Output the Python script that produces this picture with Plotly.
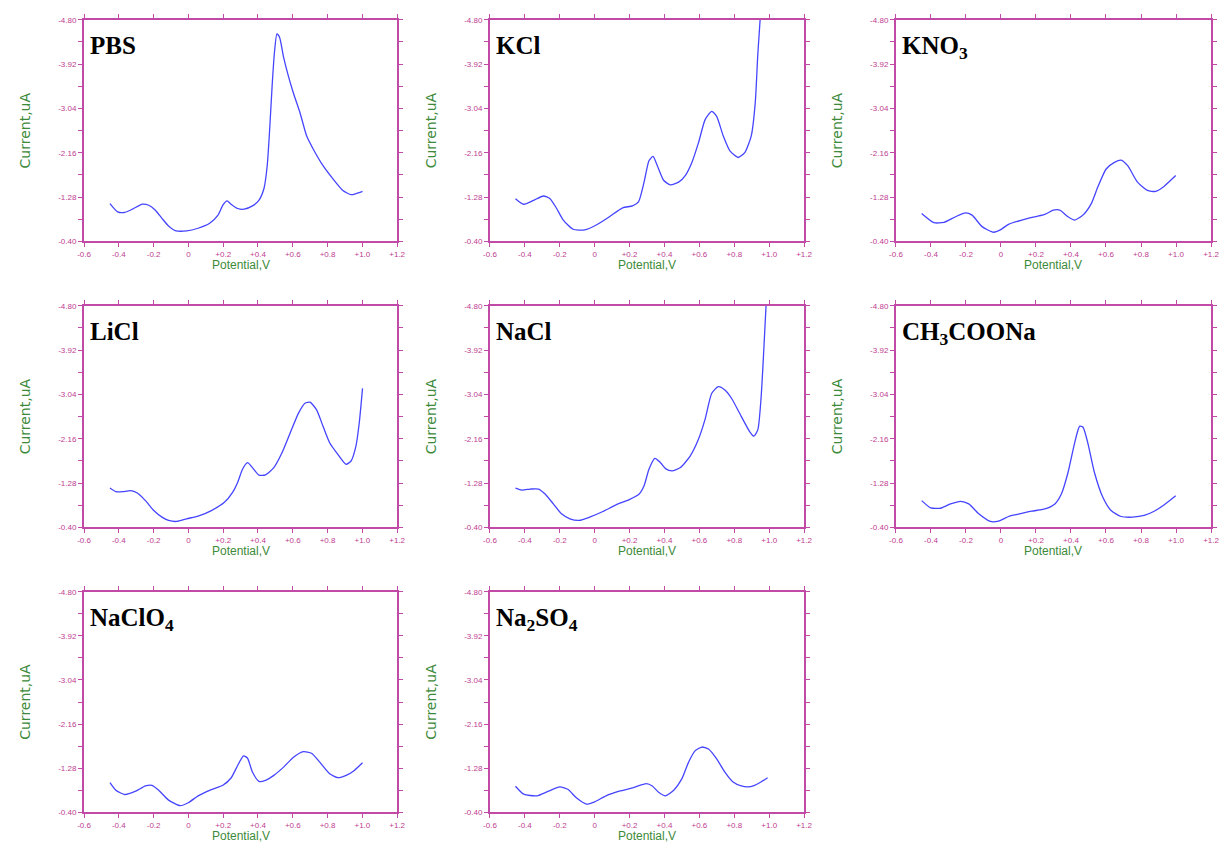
import plotly.graph_objects as go

# ---------------- data ----------------
labels = ["<b>PBS</b>", "<b>KCl</b>", "<b>KNO<sub>3</sub></b>",
          "<b>LiCl</b>", "<b>NaCl</b>", "<b>CH<sub>3</sub>COONa</b>",
          "<b>NaClO<sub>4</sub></b>", "<b>Na<sub>2</sub>SO<sub>4</sub></b>"]

pbs_x = [-0.451, -0.407, -0.369, -0.322, -0.265, -0.228, -0.19, -0.152, -0.114, -0.076, -0.01, 0.056, 0.122, 0.17,
         0.198, 0.222, 0.245, 0.283, 0.32, 0.368, 0.405, 0.434, 0.453, 0.466, 0.481, 0.494, 0.509, 0.524, 0.547,
         0.576, 0.604, 0.642, 0.68, 0.718, 0.774, 0.831, 0.888, 0.935, 0.963, 1.001]
pbs_y = [-1.152, -0.988, -0.975, -1.04, -1.139, -1.119, -1.021, -0.858, -0.707, -0.616, -0.609, -0.662, -0.76,
         -0.923, -1.119, -1.204, -1.139, -1.054, -1.04, -1.106, -1.217, -1.446, -1.904, -2.558, -3.473, -4.127,
         -4.519, -4.454, -4.061, -3.669, -3.342, -2.95, -2.492, -2.231, -1.904, -1.642, -1.413, -1.328, -1.348, -1.394]

kcl_x = [-0.454, -0.407, -0.35, -0.294, -0.256, -0.218, -0.18, -0.124, -0.057, 0.009, 0.084, 0.16, 0.217, 0.251,
         0.283, 0.311, 0.334, 0.359, 0.396, 0.434, 0.481, 0.519, 0.557, 0.595, 0.633, 0.671, 0.699, 0.737, 0.775,
         0.822, 0.86, 0.897, 0.92, 0.935, 0.948]
kcl_y = [-1.25, -1.139, -1.217, -1.302, -1.25, -1.054, -0.825, -0.642, -0.629, -0.727, -0.89, -1.067, -1.106,
         -1.185, -1.577, -2.002, -2.087, -1.904, -1.61, -1.525, -1.577, -1.708, -1.969, -2.361, -2.819, -2.983,
         -2.884, -2.492, -2.198, -2.067, -2.165, -2.492, -3.146, -4.127, -4.80]

kno3_x = [-0.453, -0.383, -0.326, -0.26, -0.203, -0.165, -0.108, -0.042, -0.004, 0.043, 0.119, 0.194, 0.251, 0.298,
          0.336, 0.383, 0.421, 0.468, 0.516, 0.553, 0.601, 0.648, 0.686, 0.724, 0.78, 0.837, 0.884, 0.931, 0.998]
kno3_y = [-0.956, -0.773, -0.779, -0.89, -0.969, -0.923, -0.694, -0.583, -0.629, -0.74, -0.825, -0.89, -0.936,
          -1.021, -1.021, -0.89, -0.825, -0.923, -1.152, -1.479, -1.838, -1.969, -2.015, -1.904, -1.577, -1.413,
          -1.394, -1.492, -1.708]

licl_x = [-0.451, -0.417, -0.379, -0.332, -0.294, -0.247, -0.199, -0.152, -0.114, -0.067, -0.01, 0.056, 0.132, 0.207,
          0.254, 0.283, 0.311, 0.34, 0.368, 0.406, 0.443, 0.491, 0.538, 0.585, 0.633, 0.67, 0.699, 0.737, 0.774,
          0.812, 0.859, 0.906, 0.935, 0.963, 0.982, 1.001]
licl_y = [-1.18, -1.108, -1.108, -1.128, -1.082, -0.931, -0.734, -0.603, -0.538, -0.518, -0.57, -0.623, -0.734,
          -0.898, -1.095, -1.292, -1.554, -1.685, -1.587, -1.436, -1.443, -1.587, -1.882, -2.275, -2.669, -2.865,
          -2.885, -2.734, -2.406, -2.079, -1.849, -1.652, -1.718, -2.013, -2.472, -3.16]

nacl_x = [-0.454, -0.417, -0.369, -0.322, -0.284, -0.237, -0.19, -0.142, -0.089, -0.029, 0.047, 0.122, 0.198, 0.255,
          0.283, 0.311, 0.345, 0.377, 0.406, 0.443, 0.491, 0.547, 0.594, 0.632, 0.671, 0.708, 0.746, 0.784, 0.84,
          0.887, 0.912, 0.935, 0.954, 0.969, 0.982]
nacl_y = [-1.18, -1.141, -1.161, -1.161, -1.062, -0.866, -0.669, -0.57, -0.538, -0.603, -0.715, -0.846, -0.951,
          -1.062, -1.226, -1.554, -1.77, -1.685, -1.567, -1.521, -1.587, -1.816, -2.144, -2.538, -3.062, -3.193,
          -3.128, -2.964, -2.603, -2.308, -2.21, -2.341, -2.997, -3.915, -4.80]

ch3coona_x = [-0.453, -0.401, -0.345, -0.288, -0.231, -0.184, -0.127, -0.061, -0.014, 0.043, 0.1, 0.175, 0.251,
              0.308, 0.345, 0.383, 0.421, 0.449, 0.468, 0.496, 0.534, 0.582, 0.629, 0.686, 0.752, 0.818, 0.875,
              0.931, 0.998]
ch3coona_y = [-0.931, -0.787, -0.78, -0.866, -0.918, -0.866, -0.669, -0.518, -0.525, -0.616, -0.662, -0.721,
              -0.767, -0.866, -1.062, -1.489, -2.079, -2.406, -2.393, -2.079, -1.489, -0.997, -0.734, -0.616, -0.603,
              -0.636, -0.721, -0.846, -1.03]

naclo4_x = [-0.451, -0.417, -0.366, -0.303, -0.247, -0.209, -0.171, -0.114, -0.048, -0.001, 0.056, 0.132, 0.198,
            0.245, 0.283, 0.317, 0.34, 0.368, 0.406, 0.443, 0.491, 0.547, 0.604, 0.661, 0.708, 0.755, 0.812, 0.859,
            0.907, 0.954, 1.001]
naclo4_y = [-0.992, -0.841, -0.755, -0.821, -0.926, -0.939, -0.841, -0.643, -0.532, -0.591, -0.729, -0.854, -0.939,
            -1.084, -1.334, -1.525, -1.479, -1.203, -1.018, -1.038, -1.137, -1.301, -1.499, -1.61, -1.577, -1.4,
            -1.169, -1.091, -1.137, -1.236, -1.387]

na2so4_x = [-0.454, -0.407, -0.332, -0.265, -0.199, -0.152, -0.105, -0.048, 0.0, 0.065, 0.141, 0.217, 0.296, 0.33,
            0.368, 0.406, 0.453, 0.5, 0.538, 0.576, 0.614, 0.652, 0.699, 0.746, 0.793, 0.84, 0.878, 0.916, 0.953,
            0.991]
na2so4_y = [-0.92, -0.762, -0.729, -0.821, -0.906, -0.854, -0.689, -0.564, -0.61, -0.729, -0.821, -0.887, -0.972,
            -0.926, -0.795, -0.729, -0.841, -1.071, -1.4, -1.63, -1.702, -1.662, -1.466, -1.203, -1.005, -0.926,
            -0.906, -0.939, -1.005, -1.091]

series_x = [pbs_x, kcl_x, kno3_x, licl_x, nacl_x, ch3coona_x, naclo4_x, na2so4_x]
series_y = [pbs_y, kcl_y, kno3_y, licl_y, nacl_y, ch3coona_y, naclo4_y, na2so4_y]

x_tickvals = [-0.6, -0.4, -0.2, 0, 0.2, 0.4, 0.6, 0.8, 1.0, 1.2]
x_ticktext = ["-0.6", "-0.4", "-0.2", "0", "+0.2", "+0.4", "+0.6", "+0.8", "+1.0", "+1.2"]
y_tickvals = [-4.80, -3.92, -3.04, -2.16, -1.28, -0.40]
y_ticktext = ["-4.80", "-3.92", "-3.04", "-2.16", "-1.28", "-0.40"]
y_minorvals = [-4.36, -3.48, -2.60, -1.72, -0.84]

# ---------------- layout ----------------
W, H = 1221, 847
col_px = [(78, 395), (489, 807), (900, 1219)]
row_px = [(16, 240), (305, 529), (594, 817)]

AXIS = "#c04aa6"
TICKFONT = "#c03c90"
TITLEC = "#3d8a3a"
LINEC = "#4545ff"

fig = go.Figure()
layout = dict(width=W, height=H, margin=dict(l=0, r=0, t=0, b=0),
              paper_bgcolor="white", plot_bgcolor="white", showlegend=False)
annotations = []

for i in range(8):
    r, c = divmod(i, 3)
    n = "" if i == 0 else str(i + 1)
    xd = [col_px[c][0] / W, col_px[c][1] / W]
    yd = [1 - row_px[r][1] / H, 1 - row_px[r][0] / H]
    layout["xaxis" + n] = dict(
        domain=xd, anchor="y" + n, range=[-0.6, 1.2], tickmode="array",
        tickvals=x_tickvals, ticktext=x_ticktext, showgrid=False, zeroline=False,
        showline=True, linecolor=AXIS, linewidth=2, mirror="ticks",
        ticks="outside", ticklen=4, tickwidth=1, tickcolor=AXIS,
        tickfont=dict(family="Liberation Sans, Arial", size=8, color=TICKFONT))
    layout["yaxis" + n] = dict(
        domain=yd, anchor="x" + n, range=[-0.40, -4.80], tickmode="array",
        tickvals=y_tickvals, ticktext=y_ticktext, showgrid=False, zeroline=False,
        showline=True, linecolor=AXIS, linewidth=2, mirror="ticks",
        ticks="outside", ticklen=4, tickwidth=1, tickcolor=AXIS,
        minor=dict(tickvals=y_minorvals, ticks="outside", ticklen=4, tickcolor=AXIS, showgrid=False),
        tickfont=dict(family="Liberation Sans, Arial", size=8, color=TICKFONT))
    fig.add_trace(go.Scatter(x=series_x[i], y=series_y[i], mode="lines",
                             line=dict(color=LINEC, width=1.3, shape="spline", smoothing=0.6),
                             xaxis="x" + n, yaxis="y" + n, cliponaxis=True))
    # panel label
    annotations.append(dict(text=labels[i], xref="x" + n + " domain", yref="y" + n + " domain",
                            x=0.012, y=0.955, xanchor="left", yanchor="top", showarrow=False,
                            font=dict(family="Liberation Serif, Times New Roman", size=25, color="black")))
    # axis titles
    cx = (col_px[c][0] + col_px[c][1]) / 2
    annotations.append(dict(text="Potential,V", xref="paper", yref="paper",
                            x=cx / W, y=1 - (row_px[r][1] + 24) / H, xanchor="center", yanchor="middle",
                            showarrow=False, font=dict(family="Liberation Sans, Arial", size=12, color=TITLEC)))
    cy = (row_px[r][0] + row_px[r][1]) / 2
    annotations.append(dict(text="Current,uA", xref="paper", yref="paper", textangle=-90,
                            x=(col_px[c][0] - 60) / W, y=1 - cy / H, xanchor="center", yanchor="middle",
                            showarrow=False, font=dict(family="DejaVu Sans", size=14, color=TITLEC)))

layout["annotations"] = annotations
fig.update_layout(**layout)
fig.write_html("out.html")
